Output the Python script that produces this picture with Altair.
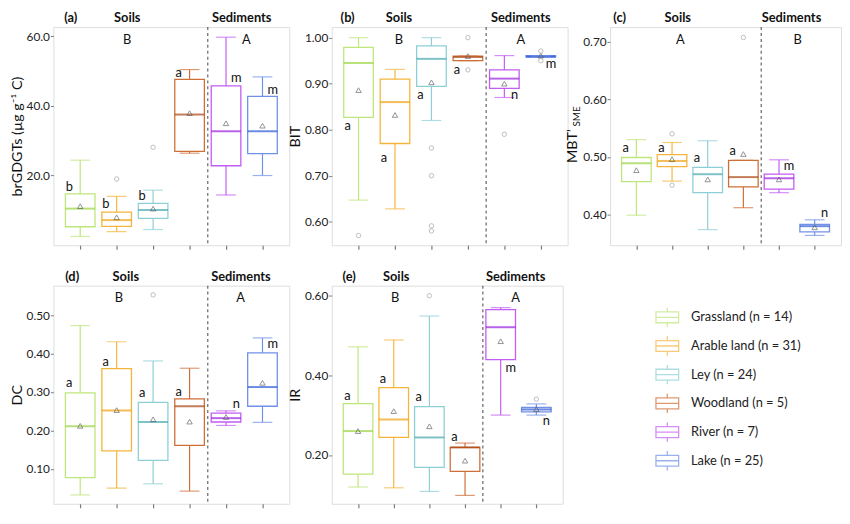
import altair as alt
import numpy as np
import pandas as pd

CATEGORIES = ["Grassland", "Arable land", "Ley", "Woodland", "River", "Lake"]
COUNTS = [14, 31, 24, 5, 7, 25]
POSITIONS = [1, 2, 3, 4, 5, 6]
BOX_COLORS = ["#bfe67a", "#f5b53c", "#8dcfd6", "#cf6f38", "#c35cf3", "#6f91e6"]
MEDIAN_COLORS = ["#98d43f", "#f0a00c", "#45a8ae", "#a9450f", "#9a1fe0", "#2c5ad6"]

# (a) brGDGTs
A_LOW = [2.5, 3.9, 4.5, 26.4, 14.4, 20.0]
A_Q1 = [5.3, 5.4, 7.7, 26.9, 22.8, 26.3]
A_MED = [10.5, 7.2, 10.1, 37.5, 32.7, 32.7]
A_Q3 = [14.7, 9.5, 12.0, 47.6, 45.7, 42.7]
A_HIGH = [24.4, 14.0, 15.8, 50.4, 59.7, 48.3]
A_MEAN = [11.2, 8.0, 10.5, 37.9, 35.0, 34.3]
A_OUT_POS = [2, 3]
A_OUT_VAL = [19.0, 28.1]
A_LETTERS = ["b", "b", "b", "a", "m", "m"]
A_LETTER_Y = [16.8, 11.9, 14.1, 49.3, 47.9, 44.6]

# (b) BIT
B_LOW = [0.647, 0.628, 0.820, 0.950, 0.870, 0.958]
B_Q1 = [0.827, 0.770, 0.894, 0.950, 0.890, 0.958]
B_MED = [0.945, 0.860, 0.954, 0.958, 0.911, 0.959]
B_Q3 = [0.979, 0.910, 0.982, 0.960, 0.930, 0.961]
B_HIGH = [1.000, 0.931, 1.000, 0.960, 0.961, 0.961]
B_MEAN = [0.886, 0.832, 0.903, 0.960, 0.900, 0.961]
B_OUT_POS = [1, 3, 3, 3, 3, 4, 4, 5, 6, 6]
B_OUT_VAL = [0.570, 0.760, 0.700, 0.591, 0.580, 1.000, 0.930, 0.790, 0.971, 0.950]
B_LETTERS = ["a", "a", "a", "a", "n", "m"]
B_LETTER_Y = [0.807, 0.739, 0.876, 0.929, 0.876, 0.943]

# (c) MBT'SME
C_LOW = [0.399, 0.458, 0.374, 0.412, 0.438, 0.364]
C_Q1 = [0.457, 0.483, 0.438, 0.448, 0.444, 0.370]
C_MED = [0.489, 0.493, 0.470, 0.465, 0.463, 0.380]
C_Q3 = [0.499, 0.504, 0.482, 0.494, 0.470, 0.383]
C_HIGH = [0.530, 0.525, 0.528, 0.494, 0.495, 0.391]
C_MEAN = [0.477, 0.496, 0.461, 0.505, 0.461, 0.378]
C_OUT_POS = [2, 2, 4]
C_OUT_VAL = [0.540, 0.451, 0.707]
C_LETTERS = ["a", "a", "a", "a", "m", "n"]
C_LETTER_Y = [0.515, 0.515, 0.498, 0.510, 0.484, 0.403]

# (d) DC
D_LOW = [0.032, 0.050, 0.061, 0.042, 0.213, 0.221]
D_Q1 = [0.077, 0.147, 0.122, 0.161, 0.222, 0.263]
D_MED = [0.211, 0.252, 0.222, 0.263, 0.232, 0.313]
D_Q3 = [0.298, 0.361, 0.273, 0.282, 0.245, 0.402]
D_HIGH = [0.473, 0.431, 0.381, 0.362, 0.251, 0.441]
D_MEAN = [0.212, 0.253, 0.229, 0.223, 0.235, 0.324]
D_OUT_POS = [3]
D_OUT_VAL = [0.553]
D_LETTERS = ["a", "a", "a", "a", "n", "m"]
D_LETTER_Y = [0.323, 0.378, 0.297, 0.301, 0.269, 0.425]

# (e) IR
E_LOW = [0.120, 0.118, 0.109, 0.099, 0.300, 0.300]
E_Q1 = [0.152, 0.244, 0.169, 0.159, 0.439, 0.308]
E_MED = [0.260, 0.289, 0.244, 0.219, 0.520, 0.314]
E_Q3 = [0.329, 0.369, 0.321, 0.219, 0.564, 0.319]
E_HIGH = [0.471, 0.488, 0.548, 0.230, 0.569, 0.328]
E_MEAN = [0.260, 0.310, 0.272, 0.186, 0.485, 0.315]
E_OUT_POS = [3, 6]
E_OUT_VAL = [0.599, 0.340]
E_LETTERS = ["a", "a", "a", "a", "m", "n"]
E_LETTER_Y = [0.348, 0.389, 0.345, 0.244, 0.419, 0.284]

FONT = "Lato"
FRAME = "#7a7a7a"
W1, W2, H1, H2 = 239, 234, 221, 221


def panel(tag, ytitle, low, q1, med, q3, high, mean, out_pos, out_val,
          letters, letter_y, groups, group_x, head_x, domain, ticks, fmt,
          width, height, sub_title=None):
    df = pd.DataFrame({
        "cat": CATEGORIES, "pos": POSITIONS, "low": low, "q1": q1, "med": med,
        "q3": q3, "high": high, "mean": mean, "box": BOX_COLORS,
        "medc": MEDIAN_COLORS, "letter": letters, "letter_y": letter_y,
    })
    df["letter_x"] = df["pos"] + np.where(df["pos"] <= 4, -0.3, 0.28)
    outs = pd.DataFrame({"pos": out_pos, "val": out_val})

    xs = alt.Scale(domain=[0.4, 6.6], nice=False, zero=False)
    ys = alt.Scale(domain=domain, nice=False, zero=False)
    xaxis = alt.Axis(values=POSITIONS, labels=False, ticks=True, tickSize=4,
                     tickColor=FRAME, tickWidth=1.2, domain=False, grid=False,
                     title=None)
    yaxis = alt.Axis(values=ticks, format=fmt, grid=False, domain=False,
                     tickSize=3, tickColor=FRAME, labelFontSize=12,
                     labelColor="#222", labelPadding=1,
                     title=(ytitle if sub_title is None else None),
                     titleFontSize=14.5, titleFontWeight="normal",
                     titleColor="#111", titlePadding=2)

    base = alt.Chart(df)
    whisk = base.mark_rule(strokeWidth=1.2).encode(
        x=alt.X("pos:Q", scale=xs, axis=xaxis),
        y=alt.Y("low:Q", scale=ys, axis=yaxis),
        y2="high:Q",
        color=alt.Color("box:N", scale=None),
    )
    cap_lo = base.mark_tick(orient="horizontal", size=20, thickness=1.2).encode(
        x="pos:Q", y="low:Q", color=alt.Color("box:N", scale=None))
    cap_hi = base.mark_tick(orient="horizontal", size=20, thickness=1.2).encode(
        x="pos:Q", y="high:Q", color=alt.Color("box:N", scale=None))
    box = base.mark_bar(size=30, fill="white", strokeWidth=1.3).encode(
        x="pos:Q", y="q1:Q", y2="q3:Q", stroke=alt.Stroke("box:N", scale=None))
    median = base.mark_tick(orient="horizontal", size=30, thickness=2).encode(
        x="pos:Q", y="med:Q", color=alt.Color("medc:N", scale=None))
    meanm = base.mark_point(shape="triangle-up", size=30, filled=False,
                            color="#555", strokeWidth=0.9).encode(
        x="pos:Q", y="mean:Q")
    outl = alt.Chart(outs).mark_point(shape="circle", size=20, filled=False,
                                      color="#999", strokeWidth=0.9).encode(
        x="pos:Q", y="val:Q")
    lets = base.mark_text(fontSize=13, color="#111", baseline="middle").encode(
        x="letter_x:Q", y="letter_y:Q", text="letter:N")
    dash = alt.Chart(pd.DataFrame({"x": [4.5]})).mark_rule(
        strokeDash=[3, 3], color="#555", strokeWidth=1.1).encode(x="x:Q")
    grp = alt.Chart(pd.DataFrame({"t": groups, "x": group_x})).mark_text(
        fontSize=13, color="#111", baseline="middle").encode(
        x="x:Q", y=alt.value(13), text="t:N")
    head = alt.Chart(pd.DataFrame({"t": [tag, "Soils", "Sediments"], "x": head_x})
                     ).mark_text(fontSize=13, fontWeight="bold", color="#111",
                                 baseline="middle").encode(
        x="x:Q", y=alt.value(-9), text="t:N")
    layers = [dash, whisk, box, median, cap_lo, cap_hi, meanm, outl, lets, grp, head]
    if sub_title is not None:
        t1 = alt.Chart(pd.DataFrame({"t": [ytitle]})).mark_text(
            fontSize=14.5, angle=270, color="#111", baseline="middle").encode(
            x=alt.value(-37), y=alt.value(height / 2 + 10), text="t:N")
        t2 = alt.Chart(pd.DataFrame({"t": [sub_title]})).mark_text(
            fontSize=10, angle=270, color="#111", baseline="middle").encode(
            x=alt.value(-33), y=alt.value(height / 2 - 20), text="t:N")
        layers += [t1, t2]
    return alt.layer(*layers).properties(width=width, height=height)


pa = panel("(a)", "brGDGTs (µg g⁻¹ C)", A_LOW, A_Q1, A_MED, A_Q3, A_HIGH, A_MEAN,
           A_OUT_POS, A_OUT_VAL, A_LETTERS, A_LETTER_Y, ["B", "A"], [2.29, 5.56],
           [0.74, 2.29, 5.43], [0, 62.6], [20, 40, 60], ".1f", W1, H1)
pb = panel("(b)", "BIT", B_LOW, B_Q1, B_MED, B_Q3, B_HIGH, B_MEAN,
           B_OUT_POS, B_OUT_VAL, B_LETTERS, B_LETTER_Y, ["B", "A"], [2.11, 5.45],
           [0.7, 2.11, 5.45], [0.549, 1.023], [0.6, 0.7, 0.8, 0.9, 1.0], ".2f", W1, H1)
pc = panel("(c)", "MBT’", C_LOW, C_Q1, C_MED, C_Q3, C_HIGH, C_MEAN,
           C_OUT_POS, C_OUT_VAL, C_LETTERS, C_LETTER_Y, ["A", "B"], [2.23, 5.52],
           [0.53, 2.16, 5.35], [0.347, 0.725], [0.4, 0.5, 0.6, 0.7], ".2f", W2, H1,
           sub_title="SME")
pd_ = panel("(d)", "DC", D_LOW, D_Q1, D_MED, D_Q3, D_HIGH, D_MEAN,
            D_OUT_POS, D_OUT_VAL, D_LETTERS, D_LETTER_Y, ["B", "A"], [2.06, 5.40],
            [0.78, 2.25, 5.41], [0.009, 0.577], [0.1, 0.2, 0.3, 0.4, 0.5], ".2f", W1, H2)
pe = panel("(e)", "IR", E_LOW, E_Q1, E_MED, E_Q3, E_HIGH, E_MEAN,
           E_OUT_POS, E_OUT_VAL, E_LETTERS, E_LETTER_Y, ["B", "A"], [2.04, 5.42],
           [0.75, 2.07, 5.42], [0.078, 0.624], [0.2, 0.4, 0.6], ".2f", W2, H2)

# legend panel
leg_df = pd.DataFrame({
    "label": [f"{c} (n = {n})" for c, n in zip(CATEGORIES, COUNTS)],
    "row": list(range(len(CATEGORIES))),
    "box": BOX_COLORS,
})
GLYPH = "M-1,-0.48H1V0.48H-1Z M-1,0H1 M0,-0.48V-0.85 M0,0.48V0.85"
lx = alt.Scale(domain=[0, 234], nice=False, zero=False)
ly = alt.Scale(domain=[-1.103, 6.5], nice=False, zero=False, reverse=True)
leg_base = alt.Chart(leg_df)
leg_sym = leg_base.mark_point(shape=GLYPH, size=529, filled=False, strokeWidth=1.3).encode(
    x=alt.X("gx:Q", scale=lx, axis=None),
    y=alt.Y("row:Q", scale=ly, axis=None),
    stroke=alt.Stroke("box:N", scale=None),
).transform_calculate(gx="58")
leg_txt = leg_base.mark_text(fontSize=13, color="#222", align="left",
                             baseline="middle").encode(
    x=alt.X("tx:Q", scale=lx, axis=None),
    y=alt.Y("row:Q", scale=ly, axis=None),
    text="label:N",
).transform_calculate(tx="82")
legend = alt.layer(leg_sym, leg_txt).properties(
    width=W2, height=H2, view=alt.ViewBackground(strokeOpacity=0))

chart = alt.concat(
    pa, pb, pc, pd_, pe, legend, columns=3,
    spacing={"row": 41, "column": 43}, bounds="flush", align="each",
    padding=0,
).configure_view(
    stroke=FRAME, strokeWidth=1.5
).configure(font=FONT)

chart.save("out.html", embed_options={"renderer": "svg", "actions": False})
